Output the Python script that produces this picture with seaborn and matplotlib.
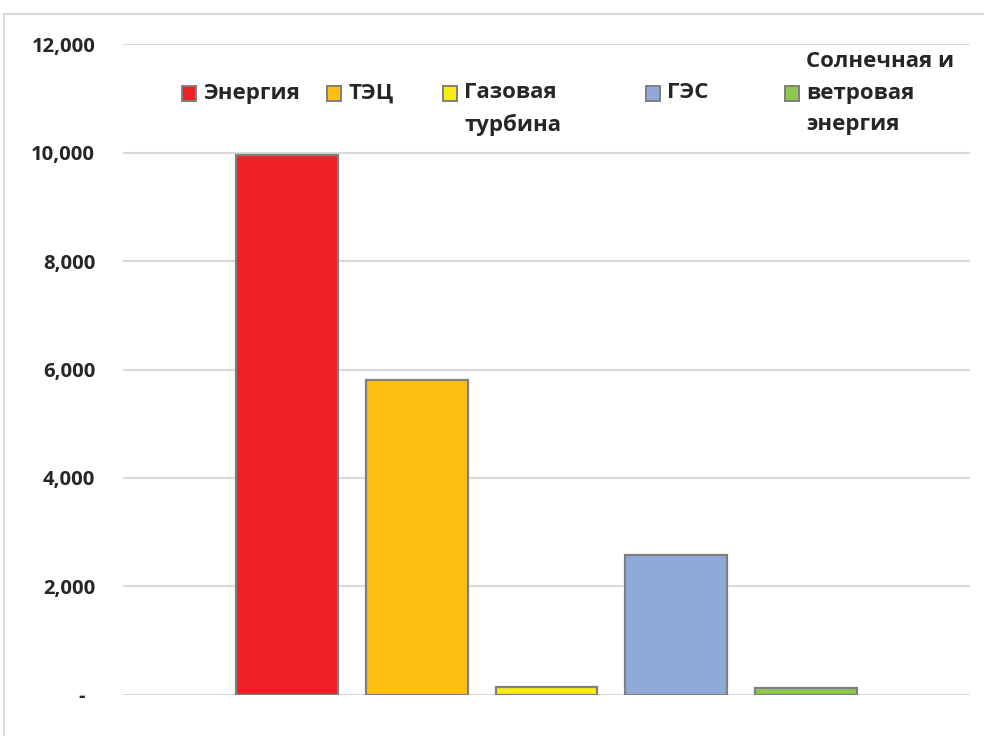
import matplotlib
matplotlib.use("Agg")
import matplotlib.pyplot as plt
from matplotlib.patches import Patch, Rectangle
from matplotlib.ticker import FuncFormatter
import seaborn as sns

# data
sources = ["Энергия", "ТЭЦ", "Газовая турбина", "ГЭС", "Солнечная и ветровая энергия"]
values = [9950, 5810, 150, 2570, 130]
legend_labels = ["Энергия", "ТЭЦ", "Газовая\nтурбина", "ГЭС", "Солнечная и\nветровая\nэнергия"]
colors = ["#ED2125", "#FDC010", "#F7EC13", "#8FAAD9", "#8DC74E"]
y_ticks = [0, 2000, 4000, 6000, 8000, 10000, 12000]

sns.set_style("white")
plt.rcParams["font.family"] = ["Open Sans", "DejaVu Sans"]

fig = plt.figure(figsize=(9.84, 7.36), dpi=100)
ax = fig.add_axes([123 / 984, 1 - 694.7 / 736, 847 / 984, 650.4 / 736])

sns.barplot(x=sources, y=values, hue=sources, palette=colors, order=sources,
            hue_order=sources, saturation=1, width=0.785, edgecolor="#7f7f7f",
            linewidth=1.6, legend=False, ax=ax)

ax.set_xlim(-1.262, 5.262)
ax.set_ylim(0, 12000)
ax.set_yticks(y_ticks)
ax.yaxis.set_major_formatter(FuncFormatter(lambda v, p: f"{v:,.0f}" if v else "-\u2002"))
ax.tick_params(axis="y", length=0, pad=20, labelsize=14.6)
for lab in ax.get_yticklabels():
    lab.set_fontweight("bold")
ax.set_xticks([])
ax.set_xlabel("")
ax.set_ylabel("")
ax.yaxis.grid(True, color="#d9d9d9", lw=1.5)
ax.set_axisbelow(True)
for s in ax.spines.values():
    s.set_visible(False)

# legend entries laid out like the Excel legend (uneven column spacing)
entry_x = [182, 327, 443, 646, 785]
for lab, c, x in zip(legend_labels, colors, entry_x):
    n = lab.count("\n") + 1
    if n == 1:
        lab = " \n" + lab + "\n "
    elif n == 2:
        lab = " \n" + lab
    h = Patch(facecolor=c, edgecolor="#7f7f7f", lw=1.4)
    leg = fig.legend([h], [lab], loc="center left", bbox_to_anchor=(x / 984, 1 - 93 / 736),
                     frameon=False, borderpad=0, borderaxespad=0, handlelength=0.65,
                     handleheight=0.65, handletextpad=0.3, prop={"size": 16, "weight": "bold"})
    for t in leg.get_texts():
        t.set_linespacing(1.65)

# light grey outer frame
fig.add_artist(Rectangle((4 / 984, -0.05), 1.2, 1 - 14 / 736 + 0.05, transform=fig.transFigure,
                         fill=False, edgecolor="#d9d9d9", lw=1.5, clip_on=False))

fig.savefig("out.png", dpi=100)
